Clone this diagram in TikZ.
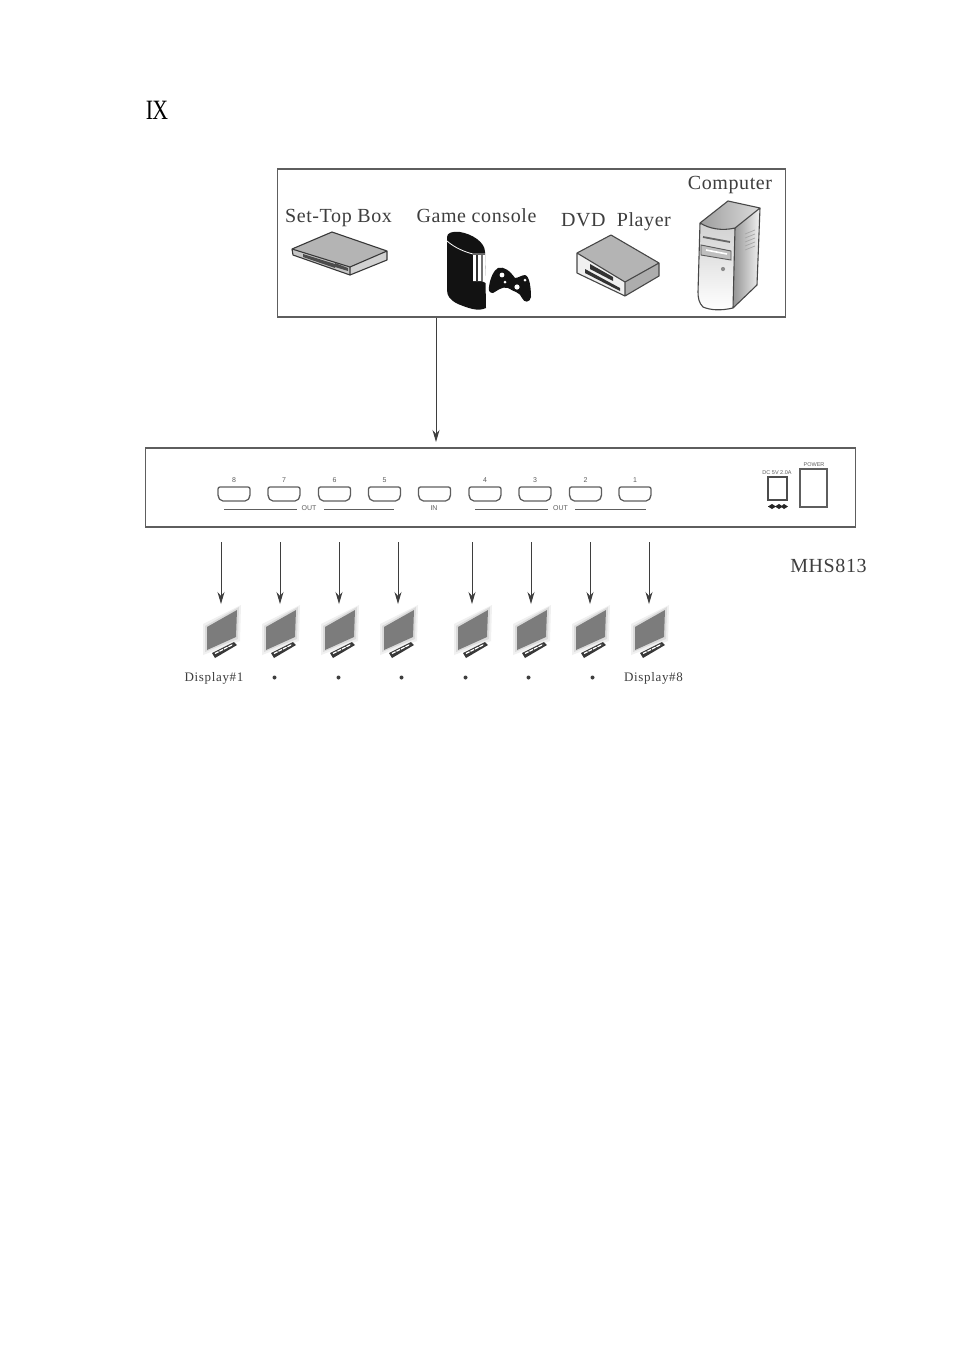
\documentclass[tikz,border=0pt]{standalone}
\usepackage{fontspec}
\setmainfont{Liberation Serif}
\newfontfamily\sansf{Liberation Sans}
\newfontfamily\spaced[LetterSpace=3]{Liberation Serif}
\newfontfamily\dspaced[LetterSpace=5]{Liberation Serif}
\usetikzlibrary{arrows.meta}
\definecolor{linegray}{HTML}{5E5E5E}
\definecolor{inkgray}{HTML}{3E3E3E}
\definecolor{facegray}{HTML}{B4B4B4}
\definecolor{screengray}{HTML}{7C7C7C}
\tikzset{
  frame/.style={draw=linegray,line width=1.5pt,inner sep=0pt},
  flow/.style={draw=inkgray,line width=1pt,-{Stealth[length=12pt,width=7pt]}},
  biglabel/.style={text=inkgray,inner sep=0pt,font=\spaced\fontsize{20}{22}\selectfont},
  displaylabel/.style={text=inkgray,inner sep=0pt,font=\dspaced\fontsize{13}{15}\selectfont},
  tiny/.style={text=linegray,inner sep=0pt,font=\sansf\fontsize{7}{8}\selectfont},
  tinier/.style={text=linegray,inner sep=0pt,font=\sansf\fontsize{5.5}{6}\selectfont},
  dotmark/.style={circle,fill=inkgray,inner sep=0pt,minimum size=4pt},
  hdmi/.pic={
    \draw[linegray,line width=1.3pt,rounded corners=2pt] (-16,-7) -- (16,-7) -- (16,3) -- (13,7) -- (-13,7) -- (-16,3) -- cycle;
  },
  monitor/.pic={
    \fill[black!6] (-18,5) -- (20,-14) -- (19,22) -- (-18,36) -- cycle;
    \fill[black!14] (-16,7) -- (18,-12) -- (17,20) -- (-16,33) -- cycle;
    \fill[screengray] (-14,8) -- (16,-9) -- (15,18) -- (-14,31) -- cycle;
    \fill[black!78] (-9,34) -- (13,23) -- (16,26) -- (-6,39) -- cycle;
    \draw[white,line width=1.3pt,dash pattern=on 4pt off 1pt] (-6,34.5) -- (12,25.5);
  },
}
\begin{document}
\begin{tikzpicture}[x=1pt,y=-1pt]
\useasboundingbox (0,0) rectangle (954,1350);
\fill[white] (0,0) rectangle (954,1350);

\node[inner sep=0pt,text=black,font=\fontsize{28}{30}\selectfont,xscale=.78] (num) at (157,110) {I\kern-1ptX};

% sources frame
\node[frame,draw,minimum width=508pt,minimum height=148pt,anchor=north west] (sources) at (276.8,168.2) {};
\node[biglabel] (stb) at (338.5,218) {Set-Top Box};
\node[biglabel] (game) at (476.5,216) {Game console};
\node[biglabel] (dvd) at (616,221.5) {DVD\ \ Player};
\node[biglabel] (pc) at (730,185) {Computer};

% set-top box
\fill[facegray] (292,249) -- (332,232) -- (387,251) -- (350,267) -- cycle;
\fill[black!22] (292,249) -- (350,267) -- (350,275) -- (293,255) -- cycle;
\fill[black!18] (350,267) -- (387,251) -- (387,260) -- (350,275) -- cycle;
\fill[black!70] (303,254) -- (335,264) -- (335,268) -- (303,257) -- cycle;
\fill[black!70] (335,263) -- (348,268) -- (348,271) -- (335,267) -- cycle;
\draw[black!78,line width=1.1pt,line join=round] (292,249) -- (332,232) -- (387,251) -- (387,260) -- (350,275) -- (293,255) -- cycle (292,249) -- (350,267) -- (387,251) (350,267) -- (350,275);

% console
\fill[black!93] (447,237) .. controls (447,233) and (452,231) .. (460,232) .. controls (472,234) and (485,242) .. (485,252) -- (486,308) .. controls (478,312) and (468,308) .. (458,304) .. controls (450,300) and (447,296) .. (447,290) -- cycle;
\draw[white,line width=.8pt] (447,241) .. controls (455,248) and (465,252) .. (473,254) -- (485,254);
\fill[white] (473,255) -- (485,255) -- (486,283) -- (482,281) -- (473,281) -- cycle;
\fill[black!80] (476,255) rectangle (478,281);
\fill[black!55] (481,255) rectangle (483,281);
% controller
\fill[black!93] (489,287) .. controls (490,278) and (494,270) .. (498,268) .. controls (504,266) and (510,271) .. (515,278) .. controls (518,278) and (522,275) .. (525,275) .. controls (530,276) and (531,290) .. (531,297) .. controls (530,303) and (524,303) .. (522,298) .. controls (520,292) and (514,292) .. (508,288) .. controls (502,286) and (497,291) .. (493,293) .. controls (490,293) and (488,291) .. (489,287) -- cycle;
\fill[white] (502,275) circle (2.4pt) (517,287) circle (2.6pt) (505,282) circle (1.5pt) (525,280) circle (1.5pt);

% DVD
\fill[facegray] (577,253) -- (611,235) -- (659,263) -- (625,282) -- cycle;
\fill[black!6] (577,253) -- (625,282) -- (625,296) -- (577,273) -- cycle;
\fill[black!32] (625,282) -- (659,263) -- (659,276) -- (625,296) -- cycle;
\fill[black!80] (590,264) -- (613,277) -- (613,281) -- (590,269) -- cycle;
\fill[black!80] (585,269) -- (620,288) -- (620,291) -- (585,273) -- cycle;
\draw[black!72,line width=1.1pt,line join=round] (577,253) -- (611,235) -- (659,263) -- (659,276) -- (625,296) -- (577,273) -- cycle (577,253) -- (625,282) -- (659,263) (625,282) -- (625,296);

% computer
\shade[left color=black!38,right color=black!14] (700,223) -- (728,201) -- (760,208) -- (735,228) .. controls (722,231) and (710,229) .. (700,223) -- cycle;
\shade[left color=black!42,right color=black!5] (735,228) -- (760,208) -- (757,285) -- (733,308) -- cycle;
\shade[top color=black!18,bottom color=white] (700,223) .. controls (710,229) and (722,231) .. (735,228) -- (733,308) .. controls (720,311) and (710,310) .. (703,307) .. controls (699,303) and (698,298) .. (698,292) -- cycle;
\draw[black!72,line width=1.1pt,line join=round] (700,223) -- (728,201) -- (760,208) -- (757,285) -- (733,308) .. controls (720,311) and (710,310) .. (703,307) .. controls (699,303) and (698,298) .. (698,292) -- (700,223) .. controls (710,229) and (722,231) .. (735,228) -- (733,308) (735,228) -- (760,208);
\draw[black!60,line width=1.8pt] (703,237) -- (730,242);
\draw[black!65,fill=black!25,line width=.9pt] (701,245) -- (731,251) -- (731,260) -- (701,255) -- cycle;
\draw[white,line width=1.6pt] (706,250) -- (727,254);
\fill[black!45] (723,269) circle (2.1pt);
\draw[black!35,line width=.7pt] (745,234) -- (755,230) (745,238) -- (755,234) (745,242) -- (755,238) (745,246) -- (755,242) (745,250) -- (755,246);

% splitter frame
\node[frame,draw,minimum width=710pt,minimum height=79pt,anchor=north west] (splitter) at (144.6,447.2) {};
\coordinate (inport) at (436,442);
\draw[flow] (sources.south -| inport) -- (inport);

\foreach \i/\x/\t in {a/234/8,b/284/7,c/334.5/6,d/384.5/5,f/485/4,g/535/3,h/585.5/2,i/635/1}{
  \pic at (\x,494) {hdmi};
  \node[tiny] (port\i) at (\x,480.5) {\t};
}
\pic at (434.5,494) {hdmi};
\node[tiny] (inlabel) at (434,508.5) {IN};

\node[tiny] (out1) at (309,508.5) {OUT};
\node[tiny] (out2) at (560.5,508.5) {OUT};
\draw[linegray,line width=1.2pt] (224,509.5) -- (297,509.5) (324,509.5) -- (394,509.5) (475,509.5) -- (548,509.5) (575,509.5) -- (646,509.5);

\node[tinier] (dclabel) at (777,473) {DC 5V 2.0A};
\node[tinier] (pwrlabel) at (814,464.5) {POWER};
\node[draw=black!70,line width=1.1pt,minimum width=19pt,minimum height=23pt,inner sep=0pt] (dcbox) at (777.5,488.5) {};
\node[draw=linegray,line width=1.3pt,minimum width=27pt,minimum height=38pt,inner sep=0pt] (pwrbox) at (813.5,488) {};
\draw[black!85,line width=1pt] (768,506.5) -- (787,506.5);
\fill[black!85] (768,506.5) -- (772,504) -- (776,506.5) -- (772,509) -- cycle (775,506.5) -- (779,504) -- (783,506.5) -- (779,509) -- cycle (781,506.5) -- (784,504) -- (788,506.5) -- (784,509) -- cycle;

\node[biglabel] (model) at (828.5,566) {MHS813};

% outputs
\foreach \i/\x in {1/221,2/280,3/339,4/398,5/472,6/531,7/590,8/649}{
  \coordinate (top\i) at (\x,542);
  \coordinate (tip\i) at (\x,604);
  \draw[flow] (top\i) -- (tip\i);
  \pic at (\x,619) {monitor};
}
\node[displaylabel] (d1) at (214,678) {Display\#1};
\node[displaylabel] (d8) at (653.5,678) {Display\#8};
\foreach \i/\x in {2/274.5,3/338.5,4/401.5,5/465.5,6/528.5,7/592.5}{
  \node[dotmark] (dot\i) at (\x,677.5) {};
}
\end{tikzpicture}
\end{document}
